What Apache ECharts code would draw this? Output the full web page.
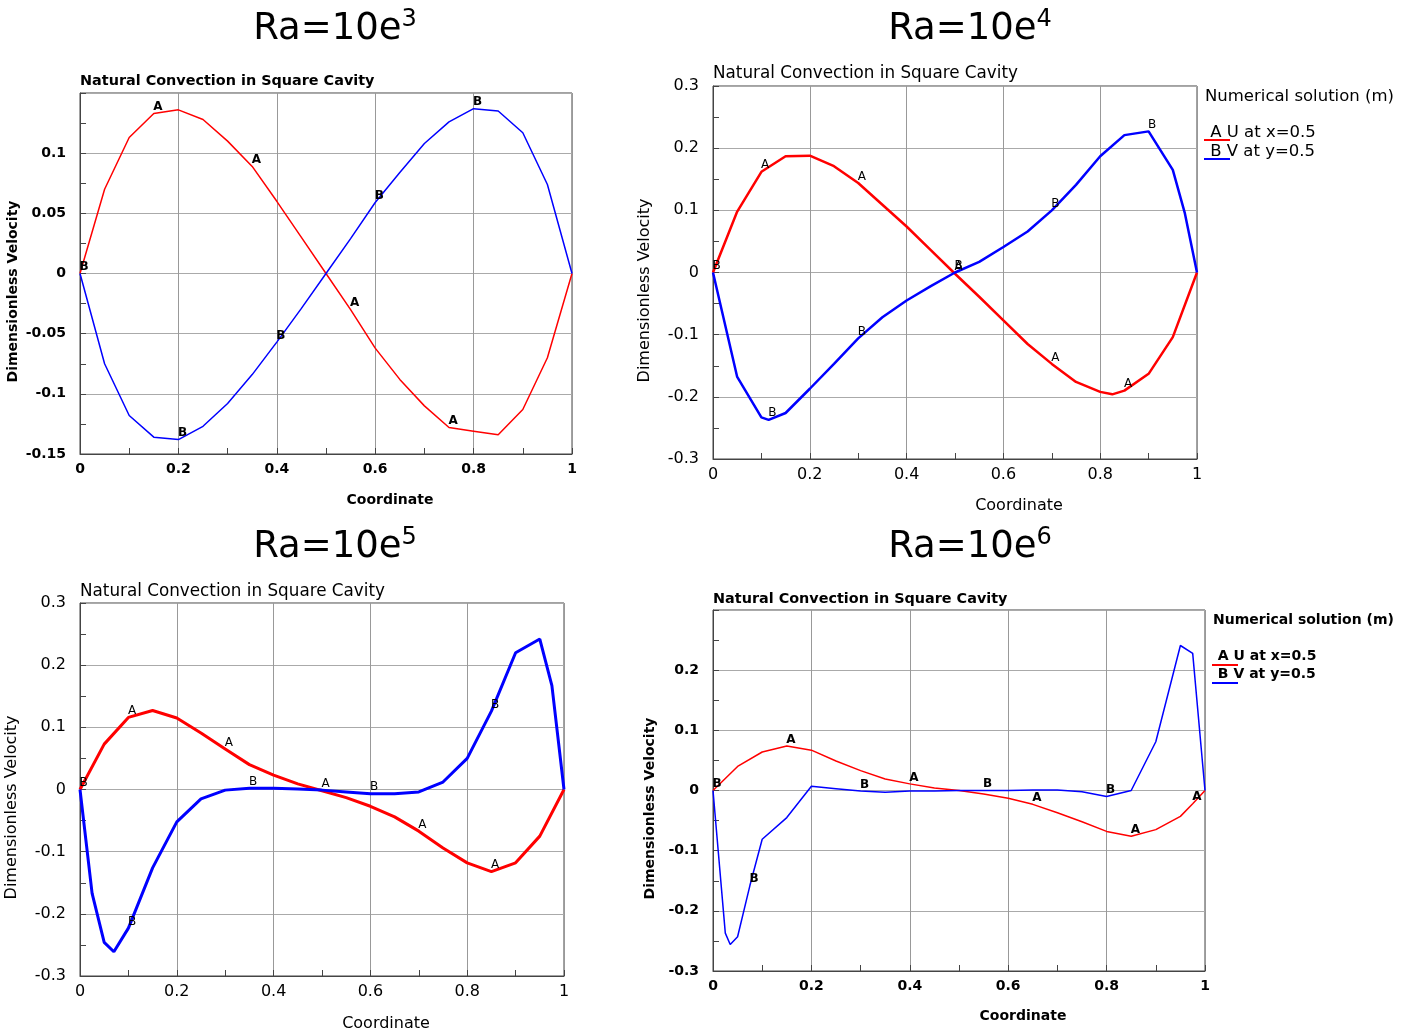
<!DOCTYPE html>
<html>
<head>
<meta charset="utf-8">
<script src="https://cdn.jsdelivr.net/npm/echarts@6/dist/echarts.min.js"></script>
<style>
  html, body { margin: 0; padding: 0; background: #fff; }
  #main { width: 1413px; height: 1034px; }
</style>
</head>
<body>
<div id="main"></div>
<script>
// Ra = 10e3
var x1 = [0, 0.05, 0.1, 0.15, 0.2, 0.25, 0.3, 0.35, 0.4, 0.45, 0.5, 0.55, 0.6, 0.65, 0.7, 0.75, 0.8, 0.85, 0.9, 0.95, 1];
var u1 = [0, 0.070, 0.113, 0.133, 0.136, 0.128, 0.110, 0.089, 0.060, 0.030, 0, -0.030, -0.062, -0.088, -0.110, -0.128, -0.131, -0.134, -0.113, -0.070, 0];
var v1 = [0, -0.075, -0.118, -0.136, -0.138, -0.127, -0.108, -0.084, -0.057, -0.029, 0, 0.029, 0.059, 0.084, 0.108, 0.126, 0.137, 0.135, 0.117, 0.074, 0];
var marks1A = [0.15, 0.35, 0.55, 0.75];
var marks1B = [0, 0.2, 0.4, 0.6, 0.8];

// Ra = 10e4
var x2u = [0, 0.05, 0.1, 0.15, 0.2, 0.25, 0.3, 0.35, 0.4, 0.45, 0.5, 0.55, 0.6, 0.65, 0.7, 0.75, 0.8, 0.825, 0.85, 0.9, 0.95, 1];
var u2 = [0, 0.098, 0.162, 0.187, 0.188, 0.171, 0.144, 0.109, 0.074, 0.036, -0.002, -0.039, -0.077, -0.115, -0.147, -0.176, -0.192, -0.196, -0.190, -0.163, -0.104, 0];
var x2v = [0, 0.05, 0.1, 0.115, 0.15, 0.2, 0.25, 0.3, 0.35, 0.4, 0.45, 0.5, 0.55, 0.6, 0.65, 0.7, 0.75, 0.8, 0.85, 0.9, 0.95, 0.975, 1];
var v2 = [0, -0.168, -0.233, -0.237, -0.226, -0.187, -0.147, -0.106, -0.072, -0.045, -0.022, 0, 0.017, 0.041, 0.066, 0.100, 0.141, 0.187, 0.221, 0.227, 0.165, 0.095, 0];
var marks2A = [0.1, 0.3, 0.5, 0.7, 0.85];
var marks2B = [0, 0.115, 0.3, 0.5, 0.7, 0.9];

// Ra = 10e5
var x3u = [0, 0.05, 0.1, 0.15, 0.2, 0.25, 0.3, 0.35, 0.4, 0.45, 0.5, 0.55, 0.6, 0.65, 0.7, 0.75, 0.8, 0.85, 0.9, 0.95, 1];
var u3 = [0, 0.073, 0.116, 0.127, 0.115, 0.091, 0.065, 0.040, 0.023, 0.009, -0.002, -0.013, -0.027, -0.044, -0.067, -0.094, -0.118, -0.132, -0.118, -0.075, 0];
var x3v = [0, 0.025, 0.05, 0.07, 0.1, 0.15, 0.2, 0.25, 0.3, 0.35, 0.4, 0.45, 0.5, 0.55, 0.6, 0.65, 0.7, 0.75, 0.8, 0.85, 0.9, 0.95, 0.975, 1];
var v3 = [0, -0.167, -0.246, -0.261, -0.223, -0.126, -0.052, -0.015, -0.001, 0.002, 0.002, 0.001, -0.001, -0.004, -0.007, -0.007, -0.004, 0.012, 0.050, 0.126, 0.220, 0.242, 0.167, 0];
var marks3A = [0.1, 0.3, 0.5, 0.7, 0.85];
var marks3B = [0, 0.1, 0.35, 0.6, 0.85];

// Ra = 10e6
var x4u = [0, 0.05, 0.1, 0.15, 0.2, 0.25, 0.3, 0.35, 0.4, 0.45, 0.5, 0.55, 0.6, 0.65, 0.7, 0.75, 0.8, 0.85, 0.9, 0.95, 0.975, 1];
var u4 = [0, 0.040, 0.064, 0.074, 0.067, 0.049, 0.033, 0.019, 0.011, 0.004, 0, -0.006, -0.013, -0.023, -0.037, -0.052, -0.068, -0.076, -0.065, -0.043, -0.022, 0];
var x4v = [0, 0.025, 0.035, 0.05, 0.075, 0.1, 0.15, 0.2, 0.25, 0.3, 0.35, 0.4, 0.45, 0.5, 0.55, 0.6, 0.65, 0.7, 0.75, 0.8, 0.85, 0.9, 0.95, 0.975, 1];
var v4 = [0, -0.237, -0.256, -0.243, -0.158, -0.081, -0.045, 0.007, 0.003, -0.001, -0.003, -0.001, -0.001, 0, 0, 0, 0.001, 0.001, -0.002, -0.010, 0, 0.081, 0.241, 0.228, 0];
var marks4A = [0.15, 0.4, 0.65, 0.85, 0.975];
var marks4B = [0, 0.075, 0.3, 0.55, 0.8];

var FONT = 'DejaVu Sans';

function pairs(xs, ys) {
    return xs.map(function (x, i) { return [x, ys[i]]; });
}
// pick the data points that carry an A/B marker letter
function markPts(xs, ys, at) {
    return at.map(function (m) {
        var best = 0;
        xs.forEach(function (x, i) { if (Math.abs(x - m) < Math.abs(xs[best] - m)) best = i; });
        return [xs[best], ys[best]];
    });
}

var panels = [
    {grid: {left: 80, top: 93, width: 492, height: 361}, ymin: -0.15, ymax: 0.15, yint: 0.05, hideMax: true, bold: true, lw: 1.5,
        u: pairs(x1, u1), v: pairs(x1, v1), a: markPts(x1, u1, marks1A), b: markPts(x1, v1, marks1B),
        title: {x: 80, y: 74}, xName: 39, yName: 60},
    {grid: {left: 713, top: 86, width: 484, height: 373}, ymin: -0.3, ymax: 0.3, yint: 0.1, hideMax: false, bold: false, lw: 2.5,
        u: pairs(x2u, u2), v: pairs(x2v, v2), a: markPts(x2u, u2, marks2A), b: markPts(x2v, v2, marks2B),
        title: {x: 713, y: 65}, xName: 39, yName: 60},
    {grid: {left: 80, top: 603, width: 484, height: 373}, ymin: -0.3, ymax: 0.3, yint: 0.1, hideMax: false, bold: false, lw: 3,
        u: pairs(x3u, u3), v: pairs(x3v, v3), a: markPts(x3u, u3, marks3A), b: markPts(x3v, v3, marks3B),
        title: {x: 80, y: 583}, xName: 40, yName: 60},
    {grid: {left: 713, top: 610, width: 492, height: 361}, ymin: -0.3, ymax: 0.3, yint: 0.1, hideMax: true, bold: true, lw: 1.5,
        u: pairs(x4u, u4), v: pairs(x4v, v4), a: markPts(x4u, u4, marks4A), b: markPts(x4v, v4, marks4B),
        title: {x: 713, y: 592}, xName: 38, yName: 56}
];

var bigTitles = [['3', 335, 6], ['4', 970, 6], ['5', 335, 524], ['6', 970, 524]];

var option = {
    backgroundColor: '#fff',
    animation: false,
    title: [],
    grid: [],
    xAxis: [],
    yAxis: [],
    series: [],
    graphic: []
};

bigTitles.forEach(function (t) {
    option.title.push({
        text: '{a|Ra=10e}{b|' + t[0] + '}',
        left: t[1], top: t[2], textAlign: 'center', padding: 0,
        textStyle: {
            fontWeight: 'normal',
            rich: {
                a: {fontFamily: FONT, fontSize: 37, fontWeight: 'normal', color: '#000', lineHeight: 46},
                b: {fontFamily: FONT, fontSize: 24, fontWeight: 'normal', color: '#000', lineHeight: 46, padding: [0, 0, 18, 0]}
            }
        }
    });
});

panels.forEach(function (p, i) {
    var fw = p.bold ? 'bold' : 'normal';
    var fs = p.bold ? 14 : 16;
    option.title.push({
        text: 'Natural Convection in Square Cavity',
        left: p.title.x, top: p.title.y, padding: 0,
        textStyle: {fontFamily: FONT, fontSize: p.bold ? 14.4 : 16.8, fontWeight: fw, color: '#000'}
    });
    option.grid.push(Object.assign({show: true, borderColor: '#444', borderWidth: 1, containLabel: false}, p.grid));
    option.xAxis.push({
        type: 'value', gridIndex: i, min: 0, max: 1, interval: 0.2,
        name: 'Coordinate', nameLocation: 'middle', nameGap: p.xName,
        nameTextStyle: {fontFamily: FONT, fontSize: fs, fontWeight: fw, color: '#000', padding: [0, 0, 0, 128]},
        axisLine: {show: true, onZero: false, lineStyle: {color: '#444'}},
        axisTick: {show: true, inside: true, length: 6, lineStyle: {color: '#444'}},
        minorTick: {show: true, splitNumber: 2, length: 6, lineStyle: {color: '#444'}},
        axisLabel: {fontFamily: FONT, fontSize: fs, fontWeight: fw, color: '#000', margin: 8},
        splitLine: {show: true, lineStyle: {color: '#999', width: 1}}
    });
    option.yAxis.push({
        type: 'value', gridIndex: i, min: p.ymin, max: p.ymax, interval: p.yint,
        name: 'Dimensionless Velocity', nameLocation: 'middle', nameGap: p.yName, nameRotate: 90,
        nameTextStyle: {fontFamily: FONT, fontSize: fs, fontWeight: fw, color: '#000', padding: [0, 36, 0, 0]},
        axisLine: {show: true, onZero: false, lineStyle: {color: '#444'}},
        axisTick: {show: true, inside: true, length: 6, lineStyle: {color: '#444'}},
        minorTick: {show: true, splitNumber: 2, length: 6, lineStyle: {color: '#444'}},
        axisLabel: {fontFamily: FONT, fontSize: fs, fontWeight: fw, color: '#000', margin: 14, showMaxLabel: !p.hideMax},
        splitLine: {show: true, lineStyle: {color: '#aaa', width: 1}}
    });
    option.series.push({
        name: 'U at x=0.5', type: 'line', xAxisIndex: i, yAxisIndex: i, data: p.u,
        showSymbol: false, lineStyle: {color: '#ff0000', width: p.lw}, itemStyle: {color: '#ff0000'}, z: 3
    });
    option.series.push({
        name: 'V at y=0.5', type: 'line', xAxisIndex: i, yAxisIndex: i, data: p.v,
        showSymbol: false, lineStyle: {color: '#0000ff', width: p.lw}, itemStyle: {color: '#0000ff'}, z: 4
    });
    [['A', p.a], ['B', p.b]].forEach(function (m) {
        option.series.push({
            type: 'scatter', xAxisIndex: i, yAxisIndex: i, data: m[1], symbolSize: 1,
            itemStyle: {opacity: 0}, silent: true, z: 5,
            label: {show: true, formatter: m[0], position: [0, -12], fontFamily: FONT, fontSize: 12,
                fontWeight: p.bold ? 'bold' : 'normal', color: '#000', opacity: 1}
        });
    });
});

// legends of the right-hand panels
function legendBlock(x, y, bold) {
    var fw = bold ? 'bold' : 'normal';
    var fs = bold ? 14 : 16.5;
    var dy = bold ? 18 : 19;
    return [
        {type: 'text', left: x, top: y, style: {text: 'Numerical solution (m)', font: fw + ' ' + fs + 'px ' + FONT, fill: '#000'}},
        {type: 'text', left: x, top: y + 36, style: {text: ' A U at x=0.5', font: fw + ' ' + fs + 'px ' + FONT, fill: '#000'}},
        {type: 'text', left: x, top: y + 36 + dy, style: {text: ' B V at y=0.5', font: fw + ' ' + fs + 'px ' + FONT, fill: '#000'}},
        {type: 'line', shape: {x1: x - 1, y1: y + 52, x2: x + 25, y2: y + 52}, style: {stroke: '#ff0000', lineWidth: 2}},
        {type: 'line', shape: {x1: x - 1, y1: y + 52 + dy, x2: x + 25, y2: y + 52 + dy}, style: {stroke: '#0000ff', lineWidth: 2}}
    ];
}
option.graphic = legendBlock(1205, 88, false).concat(legendBlock(1213, 613, true));

var chart = echarts.init(document.getElementById('main'));
chart.setOption(option);
</script>
</body>
</html>
